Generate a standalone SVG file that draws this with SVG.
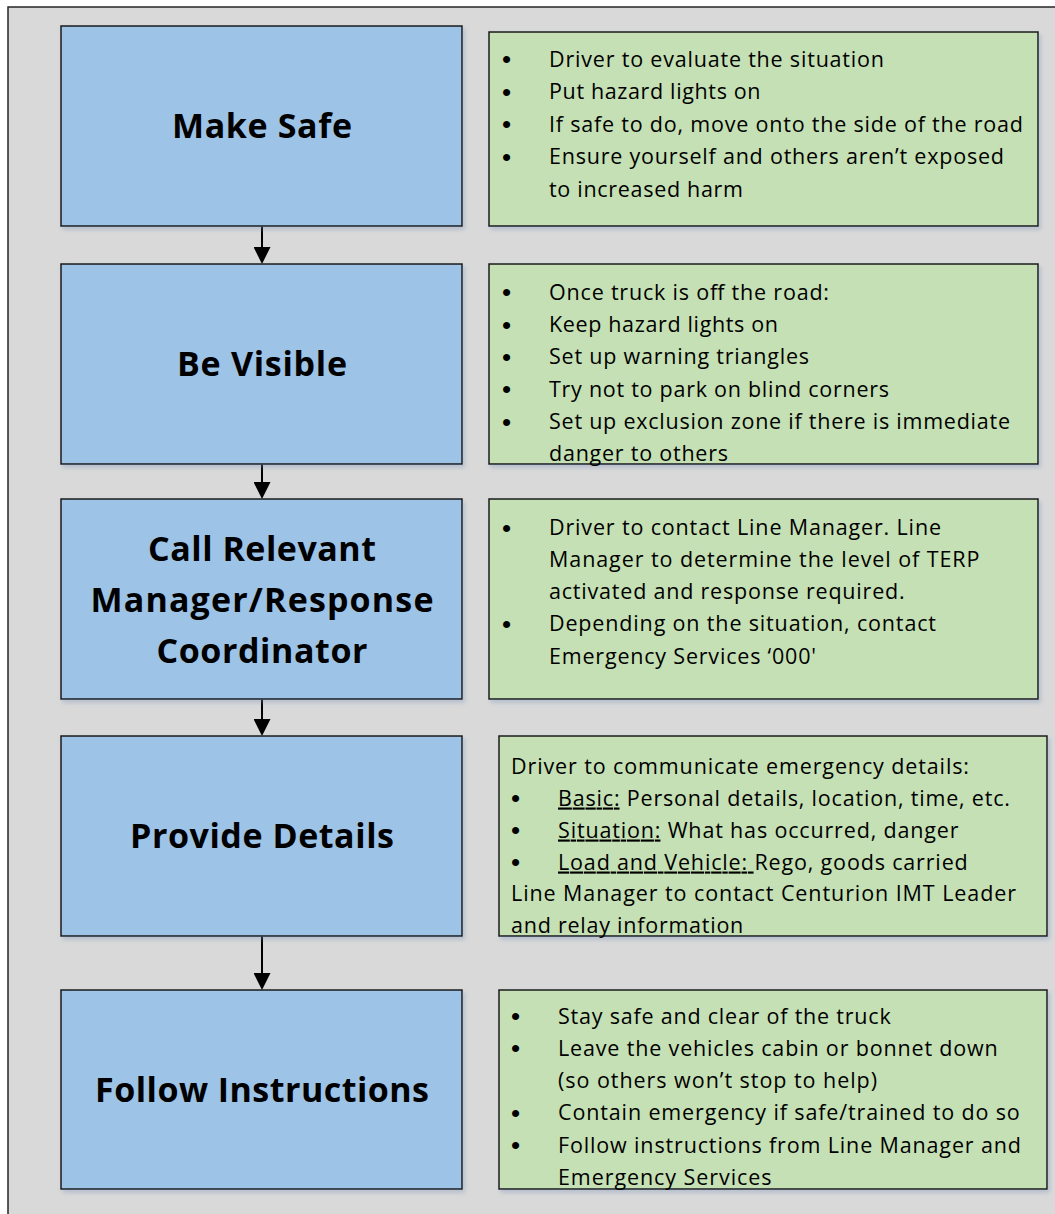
<svg xmlns="http://www.w3.org/2000/svg" width="1055" height="1214" viewBox="0 0 1055 1214">
<defs>
<style>
.bg{fill:#d9d9d9;stroke:#262626;stroke-width:1.5}
.step{fill:#9dc3e6;stroke:#1a1a1a;stroke-width:1.5;filter:url(#sh)}
.note{fill:#c5e0b4;stroke:#1a1a1a;stroke-width:1.5;filter:url(#sh)}
.title{font-family:"Open Sans","Liberation Sans",sans-serif;font-weight:700;font-size:34px;text-anchor:middle;fill:#000}
.body{font-family:"Open Sans","Liberation Sans",sans-serif;font-size:21.5px;fill:#000}
.bul{font-family:"Liberation Sans",Arial,sans-serif;font-size:26px;text-anchor:middle;fill:#000}
.u{text-decoration:underline}
.conn{stroke:#000;stroke-width:2;fill:none;marker-end:url(#arr)}
</style>
<filter id="sh" x="-5%" y="-5%" width="115%" height="120%">
<feDropShadow dx="2" dy="3" stdDeviation="2" flood-color="#6f8fb5" flood-opacity="0.35"/>
</filter>
<marker id="arr" viewBox="0 0 17 17" refX="7" refY="8.5" markerWidth="17" markerHeight="17" markerUnits="userSpaceOnUse" orient="auto">
<path d="M0,0 L17,8.5 L0,17 z" fill="#000"/>
</marker>
</defs>

<rect class="bg" x="8" y="7" width="1070" height="1230"/>

<g id="connectors">
<line class="conn" x1="262" y1="226.5" x2="262" y2="254"/>
<line class="conn" x1="262" y1="464.5" x2="262" y2="489"/>
<line class="conn" x1="262" y1="699.5" x2="262" y2="726"/>
<line class="conn" x1="262" y1="936.5" x2="262" y2="980"/>
</g>

<g id="make-safe">
<rect class="step" x="61" y="26" width="401" height="200"/>
<text class="title" x="262" y="137.5" textLength="180">Make Safe</text>
</g>
<g id="make-safe-notes">
<rect class="note" x="489" y="32" width="549" height="194"/>
<text class="bul" x="506.5" y="68.2">•</text>
<text class="bul" x="506.5" y="100.7">•</text>
<text class="bul" x="506.5" y="133.2">•</text>
<text class="bul" x="506.5" y="165.7">•</text>
<text class="body" x="549" y="66.7" textLength="335">Driver to evaluate the situation</text>
<text class="body" x="549" y="99.2" textLength="211.5">Put hazard lights on</text>
<text class="body" x="549" y="131.7" textLength="474">If safe to do, move onto the side of the road</text>
<text class="body" x="549" y="164.2" textLength="455">Ensure yourself and others aren’t exposed</text>
<text class="body" x="549" y="196.7" textLength="194">to increased harm</text>
</g>

<g id="be-visible">
<rect class="step" x="61" y="264" width="401" height="200"/>
<text class="title" x="262" y="376" textLength="170">Be Visible</text>
</g>
<g id="be-visible-notes">
<rect class="note" x="489" y="264" width="549" height="200"/>
<text class="bul" x="506.5" y="301">•</text>
<text class="bul" x="506.5" y="333.5">•</text>
<text class="bul" x="506.5" y="365.8">•</text>
<text class="bul" x="506.5" y="398.2">•</text>
<text class="bul" x="506.5" y="430.5">•</text>
<text class="body" x="549" y="299.5" textLength="280">Once truck is off the road:</text>
<text class="body" x="549" y="332" textLength="229">Keep hazard lights on</text>
<text class="body" x="549" y="364.3" textLength="260">Set up warning triangles</text>
<text class="body" x="549" y="396.7" textLength="340">Try not to park on blind corners</text>
<text class="body" x="549" y="429" textLength="461">Set up exclusion zone if there is immediate</text>
<text class="body" x="549" y="461.3" textLength="179">danger to others</text>
</g>

<g id="call-manager">
<rect class="step" x="61" y="499" width="401" height="200"/>
<text class="title" x="262" y="561" textLength="228">Call Relevant</text>
<text class="title" x="262" y="612" textLength="343">Manager/Response</text>
<text class="title" x="262" y="662.5" textLength="211">Coordinator</text>
</g>
<g id="call-manager-notes">
<rect class="note" x="489" y="499" width="549" height="200"/>
<text class="bul" x="506.5" y="536.5">•</text>
<text class="bul" x="506.5" y="632.5">•</text>
<text class="body" x="549" y="535" textLength="392">Driver to contact Line Manager. Line</text>
<text class="body" x="549" y="567" textLength="430.5">Manager to determine the level of TERP</text>
<text class="body" x="549" y="599" textLength="355.6">activated and response required.</text>
<text class="body" x="549" y="631" textLength="387">Depending on the situation, contact</text>
<text class="body" x="549" y="663.5" textLength="267">Emergency Services ‘000'</text>
</g>

<g id="provide-details">
<rect class="step" x="61" y="736" width="401" height="200"/>
<text class="title" x="262" y="848" textLength="264">Provide Details</text>
</g>
<g id="provide-details-notes">
<rect class="note" x="499" y="736" width="548" height="200"/>
<text class="bul" x="515.5" y="807">•</text>
<text class="bul" x="515.5" y="839">•</text>
<text class="bul" x="515.5" y="871">•</text>
<text class="body" x="511" y="773.5" textLength="458">Driver to communicate emergency details:</text>
<text class="body" x="558" y="805.5" textLength="452"><tspan class="u">Basic:</tspan> Personal details, location, time, etc.</text>
<text class="body" x="558" y="837.5" textLength="400.5"><tspan class="u">Situation:</tspan> What has occurred, danger</text>
<text class="body" x="558" y="869.5" textLength="409.7"><tspan class="u">Load and Vehicle: </tspan>Rego, goods carried</text>
<text class="body" x="511" y="901" textLength="505">Line Manager to contact Centurion IMT Leader</text>
<text class="body" x="511" y="933" textLength="232.3">and relay information</text>
</g>

<g id="follow-instructions">
<rect class="step" x="61" y="990" width="401" height="199"/>
<text class="title" x="262" y="1101.7" textLength="334">Follow Instructions</text>
</g>
<g id="follow-instructions-notes">
<rect class="note" x="499" y="990" width="548" height="199"/>
<text class="bul" x="515.5" y="1025">•</text>
<text class="bul" x="515.5" y="1057.3">•</text>
<text class="bul" x="515.5" y="1121.9">•</text>
<text class="bul" x="515.5" y="1154.2">•</text>
<text class="body" x="558" y="1023.5" textLength="332.7">Stay safe and clear of the truck</text>
<text class="body" x="558" y="1055.8" textLength="439.8">Leave the vehicles cabin or bonnet down</text>
<text class="body" x="558" y="1088.1" textLength="319">(so others won’t stop to help)</text>
<text class="body" x="558" y="1120.4" textLength="461.8">Contain emergency if safe/trained to do so</text>
<text class="body" x="558" y="1152.7" textLength="462.9">Follow instructions from Line Manager and</text>
<text class="body" x="558" y="1185" textLength="213.5">Emergency Services</text>
</g>
</svg>
